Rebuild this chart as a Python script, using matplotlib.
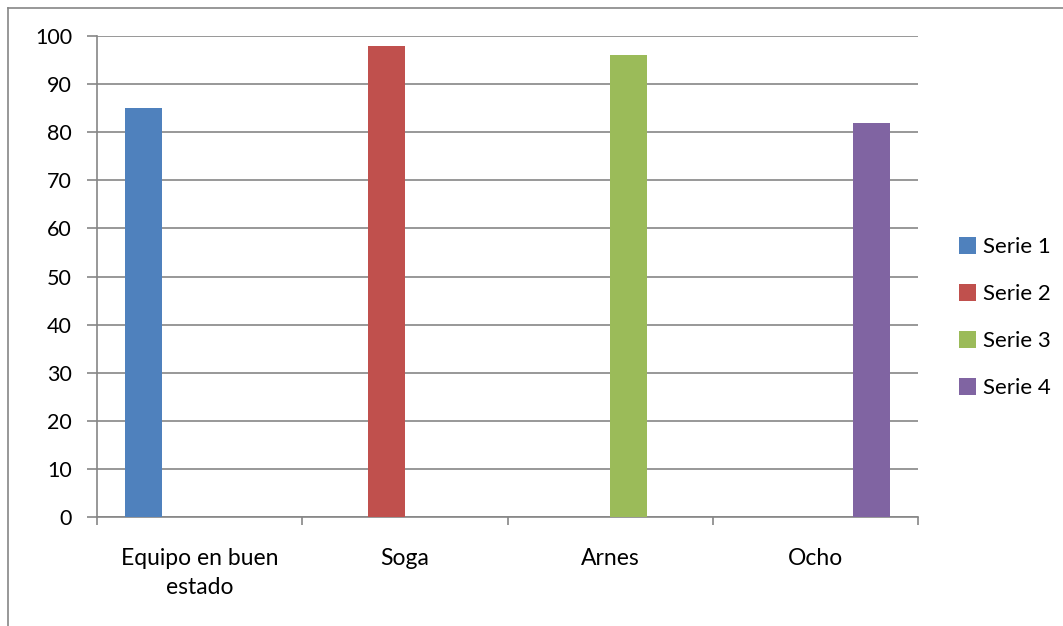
import numpy as np
import matplotlib.pyplot as plt
from matplotlib.lines import Line2D

categorias = ['Equipo en buen\nestado', 'Soga', 'Arnes', 'Ocho']
series = ['Serie 1', 'Serie 2', 'Serie 3', 'Serie 4']
serie1 = [85, 0, 0, 0]
serie2 = [0, 98, 0, 0]
serie3 = [0, 0, 96, 0]
serie4 = [0, 0, 0, 82]
valores = [serie1, serie2, serie3, serie4]
colores = ['#4F81BD', '#C0504D', '#9BBB59', '#8064A2']

plt.rcParams['font.family'] = ['Lato', 'DejaVu Sans']

fig = plt.figure(figsize=(10.63, 6.26), dpi=100)
ax = fig.add_axes([0.0913, 0.1741, 0.7723, 0.7684])

x = np.arange(len(categorias))
w = 1 / 5.5
for j in range(len(series)):
    ax.bar(x + (j - 1.5) * w, valores[j], w, color=colores[j], label=series[j], linewidth=0, zorder=3)

ax.set_xlim(-0.5, 3.5)
ax.set_ylim(0, 100)
ax.set_yticks(np.arange(0, 101, 10))
ax.yaxis.grid(True, color='#868686', linewidth=1.2, zorder=0)
ax.set_xticks(x)
ax.set_xticklabels(categorias, fontsize=16.5, linespacing=1.5)
ax.set_xticks(np.arange(-0.5, 3.6, 1), minor=True)
ax.tick_params(axis='x', which='major', length=0, pad=22)
ax.tick_params(axis='x', which='minor', length=6, color='#868686', width=1.2)
ax.tick_params(axis='y', length=7, color='#868686', width=1.2, labelsize=15.5, pad=11)
for s in ['top', 'right']:
    ax.spines[s].set_visible(False)
for s in ['left', 'bottom']:
    ax.spines[s].set_color('#868686')
    ax.spines[s].set_linewidth(1.2)

ax.legend(loc='center left', bbox_to_anchor=(1.025, 0.415), frameon=False, fontsize=16,
          handlelength=0.8, handleheight=0.8, handletextpad=0.3, labelspacing=1.2)

# borde exterior
fig.add_artist(Line2D([8 / 1063, 8 / 1063], [0, 1 - 8 / 626], color='#868686', linewidth=1.2))
fig.add_artist(Line2D([8 / 1063, 1], [1 - 8 / 626, 1 - 8 / 626], color='#868686', linewidth=1.2))

fig.savefig('out.png', dpi=100)
